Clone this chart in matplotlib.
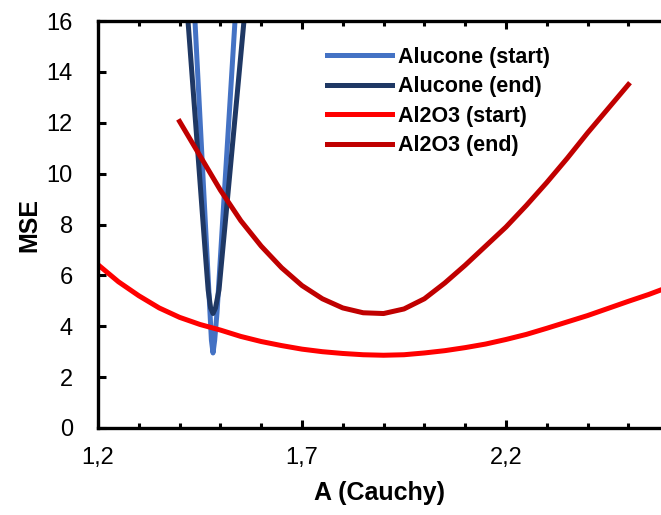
import matplotlib
matplotlib.use("Agg")
import matplotlib.pyplot as plt
from matplotlib.ticker import FixedLocator, MultipleLocator, FuncFormatter

plt.rcParams['font.family'] = ['Liberation Sans', 'DejaVu Sans']

# Alucone (start) - narrow V
alu_start_x = [1.4377, 1.4489, 1.4552, 1.4615, 1.4678, 1.4745, 1.478, 1.4819, 1.486, 1.4917, 1.4997, 1.5072, 1.5148, 1.5224, 1.5358]
alu_start_y = [16.0, 12.52, 10.55, 8.58, 6.61, 4.53, 3.45, 2.95, 3.45, 4.53, 6.61, 8.58, 10.55, 12.52, 16.0]

# Alucone (end)
alu_end_x = [1.4206, 1.4368, 1.4460, 1.4551, 1.4643, 1.470, 1.476, 1.4819, 1.488, 1.4966, 1.5034, 1.5149, 1.5263, 1.5377, 1.5578]
alu_end_y = [16.0, 12.52, 10.55, 8.58, 6.61, 5.43, 4.72, 4.5, 4.72, 5.43, 6.61, 8.58, 10.55, 12.52, 16.0]

# Al2O3 (start)
al_start_x = [1.20, 1.25, 1.30, 1.35, 1.40, 1.45, 1.50, 1.55, 1.60, 1.65, 1.70, 1.75, 1.80, 1.85,
              1.90, 1.95, 2.00, 2.05, 2.10, 2.15, 2.20, 2.25, 2.30, 2.35, 2.40, 2.45, 2.50, 2.55, 2.58]
al_start_y = [6.42, 5.75, 5.20, 4.72, 4.35, 4.07, 3.85, 3.60, 3.40, 3.24, 3.10, 3.00, 2.93, 2.88,
              2.86, 2.88, 2.95, 3.04, 3.16, 3.30, 3.48, 3.68, 3.92, 4.17, 4.42, 4.70, 4.98, 5.25, 5.43]

# Al2O3 (end)
al_end_x = [1.40, 1.45, 1.50, 1.55, 1.60, 1.65, 1.70, 1.75, 1.80, 1.85, 1.90, 1.95, 2.00,
            2.05, 2.10, 2.15, 2.20, 2.25, 2.30, 2.35, 2.40, 2.45, 2.50]
al_end_y = [12.05, 10.70, 9.35, 8.15, 7.15, 6.30, 5.60, 5.08, 4.72, 4.53, 4.50, 4.68, 5.08,
            5.70, 6.40, 7.15, 7.90, 8.75, 9.65, 10.60, 11.60, 12.55, 13.50]

x_major = [1.2, 1.7, 2.2]
y_major = [0, 2, 4, 6, 8, 10, 12, 14, 16]

fig = plt.figure(figsize=(6.61, 5.15), dpi=100)
ax = fig.add_axes([98 / 661, 87 / 515, 563 / 661, 407 / 515])

lw = 3.6
ax.plot(alu_start_x, alu_start_y, color='#4472C4', lw=lw, label='Alucone (start)')
ax.plot(alu_end_x, alu_end_y, color='#1F3864', lw=lw, label='Alucone (end)')
ax.plot(al_start_x, al_start_y, color='#FF0000', lw=lw, label='Al2O3 (start)')
ax.plot(al_end_x, al_end_y, color='#C00000', lw=lw, label='Al2O3 (end)')

ax.set_xlim(1.2, 2.58)
ax.set_ylim(0, 16)

ax.xaxis.set_major_locator(FixedLocator(x_major))
ax.xaxis.set_minor_locator(MultipleLocator(0.1))
ax.yaxis.set_major_locator(FixedLocator(y_major))
ax.xaxis.set_major_formatter(FuncFormatter(lambda v, p: f"{v:.1f}".replace('.', ',')))
ax.yaxis.set_major_formatter(FuncFormatter(lambda v, p: f"{v:.0f}"))

ax.tick_params(axis='x', which='both', direction='in', top=True, bottom=True, width=2.2)
ax.tick_params(axis='x', which='major', length=6, labelsize=17, pad=14)
ax.tick_params(axis='x', which='minor', length=3.5)
ax.tick_params(axis='y', which='major', direction='in', length=6, width=2.2,
               labelsize=17, pad=18, right=False)

for s in ['left', 'bottom', 'top']:
    ax.spines[s].set_linewidth(2.4)
ax.spines['right'].set_visible(False)

ax.set_xlabel('A (Cauchy)', fontsize=18, fontweight='bold', labelpad=8)
ax.set_ylabel('MSE', fontsize=18, fontweight='bold', labelpad=4)

leg = ax.legend(loc='upper left', bbox_to_anchor=(0.4067, 0.937), frameon=False,
                prop={'weight': 'bold', 'size': 15.5}, handlelength=3.0,
                handletextpad=0.3, labelspacing=0.4, borderpad=0, borderaxespad=0)

fig.savefig('out.png', dpi=100)
